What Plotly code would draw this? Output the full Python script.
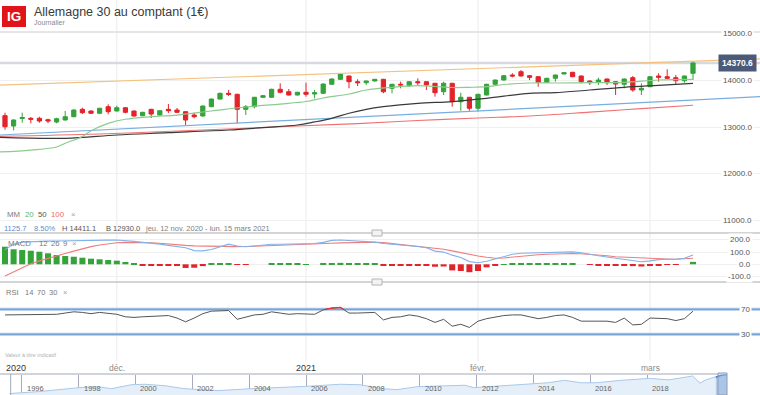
import pandas as pd
import plotly.graph_objects as go

# ---------------- data ----------------
dates = [d.strftime('%Y-%m-%d') for d in pd.bdate_range('2020-11-12', '2021-03-08')
         if d.strftime('%m-%d') not in ('12-25', '01-01')]
idx = list(range(len(dates)))

opens = [13244.9,13023,13184,13188,13188,13158,13109,13152,13222,13380,
         13344,13295,13436,13344,13414,13344,13243,13380,13258,13380,
         13365,13329,13258,13237,13436,13600,13722,13701,13380,13436,
         13637,13637,13808,13756,13686,13744,13707,13722,13915,14021,
         14092,13970,13949,13985,14021,13829,13915,13885,13970,13970,
         13936,13756,13936,13543,13637,13402,13686,13915,14006,14113,
         14184,14098,14077,13957,14043,14135,14171,14092,13985,13957,
         14028,13970,13915,14056,13793,13863,14092,14077,14056,13991,
         14150]
highs = [13308,13167,13308,13216,13222,13179,13200,13344,13380,13414,
         13360,13412,13487,13457,13425,13355,13325,13390,13360,13493,
         13408,13340,13308,13460,13610,13735,13793,13712,13472,13645,
         13685,13820,13936,13814,13755,13949,13793,13930,14040,14156,
         14100,14021,13995,14030,14030,13925,13970,13978,14043,13980,
         13945,13970,13945,13735,13645,13710,13925,14015,14110,14150,
         14220,14110,14088,14052,14122,14172,14180,14100,13995,14056,
         14036,13980,14036,14092,13936,14088,14150,14235,14113,14100,
         14411.1]
lows = [12945,12930,13094,13081,13094,13081,13081,13140,13210,13280,
        13285,13288,13273,13335,13295,13225,13230,13194,13245,13301,
        13300,13045,13188,13225,13425,13590,13665,13081,13258,13402,
        13625,13625,13722,13675,13675,13650,13615,13710,13905,14010,
        13829,13878,13900,13975,13722,13722,13829,13863,13900,13793,
        13650,13686,13436,13350,13350,13329,13675,13905,13995,14064,
        14080,14006,13863,13945,13970,14125,14068,13936,13900,13900,
        13900,13686,13829,13756,13686,13855,13970,14030,13921,13949,
        14006]
closes = [13008,13152,13205,13167,13130,13130,13179,13222,13365,13308,
          13295,13402,13329,13414,13316,13237,13316,13280,13350,13350,
          13316,13152,13222,13451,13600,13722,13701,13380,13436,13637,
          13671,13808,13744,13686,13744,13701,13735,13921,14028,14135,
          13970,13949,13985,14021,13756,13915,13900,13970,13949,13900,
          13735,13936,13543,13637,13402,13701,13915,14006,14098,14092,
          14092,14064,13957,14043,14113,14162,14077,13970,13949,14006,
          13949,13921,14028,13793,13829,14077,14064,14043,13991,14092,
          14370.6]

# moving averages (at sample candles; -1 = day before view)
ma20_idx = [-1, 3, 6, 7, 9, 10, 12, 14, 17, 20, 24, 28, 32, 35, 37, 40, 42, 45, 48,
            50, 52, 54, 56, 58, 61, 64, 68, 72, 76, 80]
ma20 = [12465, 12510, 12575, 12654, 12800, 12923, 13081, 13167, 13222, 13258, 13344,
        13429, 13493, 13547, 13622, 13707, 13793, 13850, 13885, 13868, 13846, 13850,
        13863, 13910, 13942, 13942, 13949, 13957, 14006, 14021]
ma50_idx = [-1, 7, 13, 19, 26, 30, 34, 36, 38, 40, 42, 44, 48, 52, 56, 61, 64, 68, 72, 76, 80]
ma50 = [12782, 12761, 12831, 12880, 12938, 12990, 13045, 13110, 13188, 13295, 13380,
        13436, 13508, 13545, 13615, 13722, 13735, 13793, 13850, 13893, 13936]
ma100_idx = [-1, 11, 23, 34, 41, 48, 55, 61, 68, 74, 80]
ma100 = [12800, 12852, 12938, 13023, 13075, 13140, 13195, 13237, 13320, 13395, 13466]

# drawn trend lines (anchor candle index, price)
blue_trend_idx = [-1, 88]
blue_trend = [12827, 13652]
orange_trend_idx = [-1, 88]
orange_trend = [13896, 14459]

# MACD 12 26 9
macd = [120,165,182,186,188,190,191,193,194,195,
        196,197,198,199,195,188,180,175,165,155,
        148,135,112,110,122,145,165,150,144,150,
        158,164,164,164,164,166,170,180,196,199,
        195,190,186,182,170,162,157,152,146,135,
        108,100,75,55,22,13,25,45,65,82,
        90,92,94,95,98,103,102,95,80,70,
        60,50,40,30,21,28,38,41,41,50,
        76]
signal = [-95,-60,-25,5,28,50,72,88,108,127,
          145,158,168,177,180,180,179,177,172,165,
          160,155,151,149,147,146,145,145,146,148,
          150,152,154,156,158,160,164,168,172,176,
          178,180,181,181,178,170,164,158,150,140,
          130,123,110,95,80,68,58,50,52,60,
          64,70,78,82,86,90,89,86,82,76,
          70,62,58,54,50,47,45,43,41,43,
          49]
hist = [144,123,117,111,103,90,76,68,62,54,
        46,41,35,30,19,5,-10,-10,-12,-12,
        -14,-30,-28,-15,5,8,10,-5,-5,0,
        0,8,8,5,5,2,0,5,8,12,
        10,6,5,5,-10,-10,-10,-10,-10,-12,
        -20,-18,-50,-55,-65,-55,-25,-10,2,8,
        10,10,7,7,7,7,7,0,-5,-7,
        -8,-10,-10,-15,-18,-10,-6,-4,-2,0,
        20]

# RSI 14
rsi = [61,61,62,62,62,62,62,64,66,65,
       63,65,64,62,58,57,58,59,60,60,
       56,50,56,63,67,68,68,54,58,61,
       62,66,64,62,63,62,62,69,72,73,
       64,64,64,65,53,57,58,61,59,55,
       49,54,43,46,41,51,55,58,60,61,
       61,58,55,57,60,61,57,51,51,51,
       51,49,56,45,46,56,56,55,52,55,
       67]
rsi_levels = [70, 30]

# axis ticks
price_ticks = [11000, 12000, 13000, 14000, 15000]
macd_ticks = [200, 100, 0, -100]
x_tick_dates = ['2020-12-01', '2021-01-04', '2021-02-01', '2021-03-01']
x_tick_labels = ['déc.', '2021', 'févr.', 'mars']

# navigator (position on the navigator's year scale, level)
nav_years = [1996, 1998, 2000, 2002, 2004, 2006, 2008, 2010, 2012, 2014, 2016, 2018]
nav_x = [1995.57, 1996.6, 1998.0, 1998.65, 1999.16, 1999.84, 2000.33, 2001.04, 2001.71,
         2002.4, 2002.9, 2004.1, 2005.1, 2006.1, 2007.2, 2007.9, 2008.7, 2009.2, 2009.9,
         2010.9, 2011.6, 2011.9, 2012.8, 2013.8, 2014.5, 2015.1, 2015.7, 2016.2, 2017.07,
         2018.09, 2018.77, 2019.6, 2019.86, 2020.07, 2020.42, 2020.63, 2020.81]
nav_v = [1030, 2400, 5150, 5830, 4460, 7200, 7550, 6520, 4460,
         3770, 3090, 4460, 5150, 6180, 7550, 7200, 4460, 3770, 5830,
         6520, 6860, 5150, 6520, 7890, 8580, 10300, 8580, 8580, 10300,
         11670, 10640, 13380, 8370, 10640, 12490, 14070, 14370]

# ---------------- styling / layout helpers ----------------
W, H = 760, 395
def P(px):
    return 1 - px / H
def X(px):
    return px / W

GREEN = '#33a33a'
RED = '#e3232a'
FONT = 'Arial, Liberation Sans, sans-serif'

# x scale: candle i centred at 5 + 8.6*i px
X0_PX, STEP_PX = 5.0, 8.6
x_range = [(0 - X0_PX) / STEP_PX, (W - X0_PX) / STEP_PX]

# price scale
P_REF, P_REF_PX, PX_PER_UNIT = 14000, 80.3, 46.8 / 1000
main_top, main_bot = 33, 233
main_range = [P_REF - (main_bot - P_REF_PX) / PX_PER_UNIT, P_REF + (P_REF_PX - main_top) / PX_PER_UNIT]
# MACD scale
macd_top, macd_bot, macd_zero_px, macd_ppu = 233, 282, 264.3, 12.2 / 100
macd_range = [-(macd_bot - macd_zero_px) / macd_ppu, (macd_zero_px - macd_top) / macd_ppu]
# RSI scale
rsi_top, rsi_bot, rsi70_px, rsi_ppu = 282, 360, 309.3, 25.0 / 40
rsi_range = [70 - (rsi_bot - rsi70_px) / rsi_ppu, 70 + (rsi70_px - rsi_top) / rsi_ppu]
# navigator
nav_top = 374.5
NAV_Y0_PX, NAV_PPY = 21.8, 28.42
nav_xrange = [1996 + (0 - NAV_Y0_PX) / NAV_PPY, 1996 + (W - NAV_Y0_PX) / NAV_PPY]

fig = go.Figure()

# trend lines & MAs (below candles)
fig.add_trace(go.Scatter(x=orange_trend_idx, y=orange_trend, mode='lines',
                         line=dict(color='#f2c27e', width=1.2), xaxis='x', yaxis='y'))
fig.add_trace(go.Scatter(x=blue_trend_idx, y=blue_trend, mode='lines',
                         line=dict(color='#79aee0', width=1.2), xaxis='x', yaxis='y'))
fig.add_trace(go.Scatter(x=ma100_idx, y=ma100, mode='lines', line_shape='spline',
                         line=dict(color='#ee7272', width=1.1), xaxis='x', yaxis='y'))
fig.add_trace(go.Scatter(x=ma50_idx, y=ma50, mode='lines', line_shape='spline',
                         line=dict(color='#3a3a3a', width=1.2), xaxis='x', yaxis='y'))
fig.add_trace(go.Scatter(x=ma20_idx, y=ma20, mode='lines', line_shape='spline',
                         line=dict(color='#8ccb8c', width=1.2), xaxis='x', yaxis='y'))

fig.add_trace(go.Candlestick(
    x=idx, open=opens, high=highs, low=lows, close=closes,
    increasing=dict(line=dict(color=GREEN, width=1), fillcolor=GREEN),
    decreasing=dict(line=dict(color=RED, width=1), fillcolor=RED),
    whiskerwidth=0, xaxis='x', yaxis='y'))

# MACD
fig.add_trace(go.Bar(x=idx, y=hist, width=0.7,
                     marker=dict(color=[GREEN if v >= 0 else RED for v in hist], line=dict(width=0)),
                     xaxis='x', yaxis='y2'))
fig.add_trace(go.Scatter(x=idx, y=signal, mode='lines', line=dict(color='#f07c7c', width=1.1),
                         xaxis='x', yaxis='y2'))
fig.add_trace(go.Scatter(x=idx, y=macd, mode='lines', line=dict(color='#80b2ea', width=1.1),
                         xaxis='x', yaxis='y2'))

# RSI
fig.add_trace(go.Scatter(x=idx, y=rsi, mode='lines', line=dict(color='#555555', width=1),
                         xaxis='x', yaxis='y3'))
fig.add_trace(go.Scatter(x=idx, y=rsi, mode='lines', line=dict(color='#e83030', width=1.2),
                         xaxis='x', yaxis='y4'))

# navigator
fig.add_trace(go.Scatter(x=nav_x, y=nav_v, mode='lines', fill='tozeroy',
                         fillcolor='#e5eff9', line=dict(color='#a9c8ea', width=1),
                         xaxis='x2', yaxis='y5'))
fig.add_trace(go.Scatter(x=nav_x[-3:], y=nav_v[-3:], mode='lines', fill='tozeroy',
                         fillcolor='rgba(120,165,220,0.45)', line=dict(color='#3d7fcf', width=1.5),
                         xaxis='x2', yaxis='y5'))

shapes = []
# vertical date gridlines
tick_idx = [dates.index(d) for d in x_tick_dates]
for t in tick_idx:
    shapes.append(dict(type='line', xref='x', yref='paper', x0=t, x1=t, y0=P(361), y1=1,
                       line=dict(color='#ebebeb', width=1), layer='below'))
# separators
shapes.append(dict(type='line', xref='paper', yref='paper', x0=0, x1=1, y0=P(32), y1=P(32),
                   line=dict(color='#e6e6e6', width=2)))
for sy in (233, 282):
    shapes.append(dict(type='line', xref='paper', yref='paper', x0=0, x1=1, y0=P(sy), y1=P(sy),
                       line=dict(color='#c6c6c6', width=1.5)))
    shapes.append(dict(type='rect', xref='paper', yref='paper', x0=X(372), x1=X(382),
                       y0=P(sy + 3), y1=P(sy - 3), fillcolor='#f3f3f3',
                       line=dict(color='#b4b4b4', width=1)))
# current price line
shapes.append(dict(type='line', xref='paper', yref='y', x0=0, x1=1, y0=closes[-1], y1=closes[-1],
                   line=dict(color='#d6d9e0', width=2.5), layer='below'))
# RSI bands
for lv in rsi_levels:
    shapes.append(dict(type='line', xref='paper', yref='y3', x0=0, x1=1, y0=lv, y1=lv,
                       line=dict(color='#a9c6e6', width=3), layer='below'))
    shapes.append(dict(type='line', xref='paper', yref='y3', x0=0, x1=1, y0=lv, y1=lv,
                       line=dict(color='#6c9bd0', width=1), layer='below'))
# navigator frame and selection
shapes.append(dict(type='line', xref='paper', yref='paper', x0=0, x1=X(718), y0=P(374), y1=P(374),
                   line=dict(color='#a4a8ba', width=1)))
shapes.append(dict(type='line', xref='paper', yref='paper', x0=X(10.7), x1=X(10.7), y0=0, y1=P(374),
                   line=dict(color='#a4a8ba', width=1)))
shapes.append(dict(type='rect', xref='paper', yref='paper', x0=X(718), x1=X(727), y0=0, y1=P(373),
                   fillcolor='rgba(150,185,225,0.35)', line=dict(color='#8e98b4', width=1)))

ann = []
def txt(x, y, s, size=9, color='#777', xanchor='left', xref='paper', yref='paper', **kw):
    ann.append(dict(x=x, y=y, xref=xref, yref=yref, text=s, showarrow=False, xanchor=xanchor,
                    yanchor='middle', font=dict(family=FONT, size=size, color=color), **kw))

# logo & title
shapes.append(dict(type='rect', xref='paper', yref='paper', x0=X(2), x1=X(26), y0=P(27), y1=P(6),
                   fillcolor='#e1141c', line=dict(width=0)))
txt(X(14), P(16.8), '<b>IG</b>', size=13.5, color='white', xanchor='center')
txt(X(32), P(12.5), 'Allemagne 30 au comptant (1€)', size=12.5, color='#3a3a3a')
txt(X(32), P(23), 'Journalier', size=7, color='#8a8a8a')

LEG = 7.8
# MM legend
txt(X(5), P(214), 'MM', size=LEG, color='#7a7a7a')
txt(X(23), P(214), '20', size=LEG, color='#5cb85c')
txt(X(36), P(214), '50', size=LEG, color='#555555')
txt(X(49), P(214), '100', size=LEG, color='#ea6a6a')
txt(X(69), P(214), '×', size=LEG, color='#a0a0a0')

# info line
change = closes[-1] - opens[0]
pct = change / opens[0] * 100
txt(X(2), P(228), f'{change:.1f}', size=7.5, color='#5b8fd0')
txt(X(32), P(228), f'{pct:.2f}%', size=7.5, color='#5b8fd0')
txt(X(60), P(228), f'H {max(highs):.1f}', size=7.5, color='#555')
txt(X(104), P(228), f'B {min(lows):.1f}', size=7.5, color='#555')
txt(X(143), P(228), 'jeu. 12 nov. 2020 - lun. 15 mars 2021', size=7.5, color='#808080')

# MACD / RSI labels
txt(X(6), P(243.5), 'MACD', size=LEG, color='#7a7a7a')
txt(X(37), P(243.5), '12', size=LEG, color='#7a7a7a')
txt(X(49), P(243.5), '26', size=LEG, color='#7a7a7a')
txt(X(60.5), P(243.5), '9', size=LEG, color='#7a7a7a')
txt(X(70), P(243.5), '×', size=LEG, color='#a0a0a0')
txt(X(4), P(292.5), 'RSI', size=7.5, color='#7a7a7a')
txt(X(23), P(292.5), '14', size=7.5, color='#7a7a7a')
txt(X(34.5), P(292.5), '70', size=7.5, color='#7a7a7a')
txt(X(46.5), P(292.5), '30', size=7.5, color='#7a7a7a')
txt(X(61), P(292.5), '×', size=7.5, color='#a0a0a0')

# right axis labels
for v in price_ticks:
    txt(X(754), v, f'{v:.1f}', size=8, color='#555', xanchor='right', yref='y',
        bgcolor='white', borderpad=1)
for v in macd_ticks:
    txt(X(753), v, f'{v:.1f}', size=8, color='#555', xanchor='right', yref='y2',
        bgcolor='white', borderpad=1)
for lv in rsi_levels:
    txt(X(752), lv, f'{lv}', size=8, color='#555', xanchor='right', yref='y3',
        bgcolor='white', borderpad=1)
txt(X(757), closes[-1], f'<b>{closes[-1]:.1f}</b>', size=8.5, color='white', xanchor='right',
    yref='y', bgcolor='#4b5a79', borderpad=3)

txt(X(3), P(354.5), 'Valeur à titre indicatif', size=5.5, color='#b0b0b0')

# bottom date labels
txt(X(4), P(368), '2020', size=9, color='#333')
for t, lab in zip(tick_idx, x_tick_labels):
    txt(t, P(368), lab, size=9 if lab.isdigit() else 8.5,
        color='#333' if lab.isdigit() else '#8a8a8a', xanchor='center', xref='x')

# navigator year labels
for yv in nav_years:
    txt(yv, P(388.5), str(yv), size=7.5, color='#666', xref='x2', xshift=3)

axis_off = dict(showgrid=False, zeroline=False, showticklabels=False, ticks='', showline=False)
fig.update_layout(
    width=W, height=H, margin=dict(l=0, r=0, t=0, b=0),
    paper_bgcolor='white', plot_bgcolor='rgba(0,0,0,0)',
    showlegend=False, hovermode=False, boxgap=0.3,
    xaxis=dict(domain=[0, 1], range=x_range, anchor='y', rangeslider=dict(visible=False), **axis_off),
    xaxis2=dict(domain=[0, 1], range=nav_xrange, anchor='y5', showgrid=True, gridcolor='#a6aabd',
                gridwidth=1, tickvals=nav_years, showticklabels=False, zeroline=False, ticks=''),
    yaxis=dict(domain=[P(main_bot), P(main_top)], range=main_range, anchor='x',
               showgrid=True, gridcolor='#f0f0f0', tickvals=price_ticks, showticklabels=False,
               zeroline=False, ticks=''),
    yaxis2=dict(domain=[P(macd_bot), P(macd_top)], range=macd_range, anchor='x',
                showgrid=True, gridcolor='#f0f0f0', tickvals=macd_ticks, showticklabels=False,
                zeroline=False, ticks=''),
    yaxis3=dict(domain=[P(rsi_bot), P(rsi_top)], range=rsi_range, anchor='x', **axis_off),
    yaxis4=dict(domain=[P(rsi70_px), P(rsi_top)], range=[70, rsi_range[1]], anchor='x', **axis_off),
    yaxis5=dict(domain=[0, P(nav_top)], range=[0, max(highs)], anchor='x2', **axis_off),
    shapes=shapes, annotations=ann,
)

fig.write_html('out.html', config={'displayModeBar': False},
               post_script="document.body.style.margin='0';document.body.style.padding='0';"
                           "document.body.style.overflow='hidden';")
